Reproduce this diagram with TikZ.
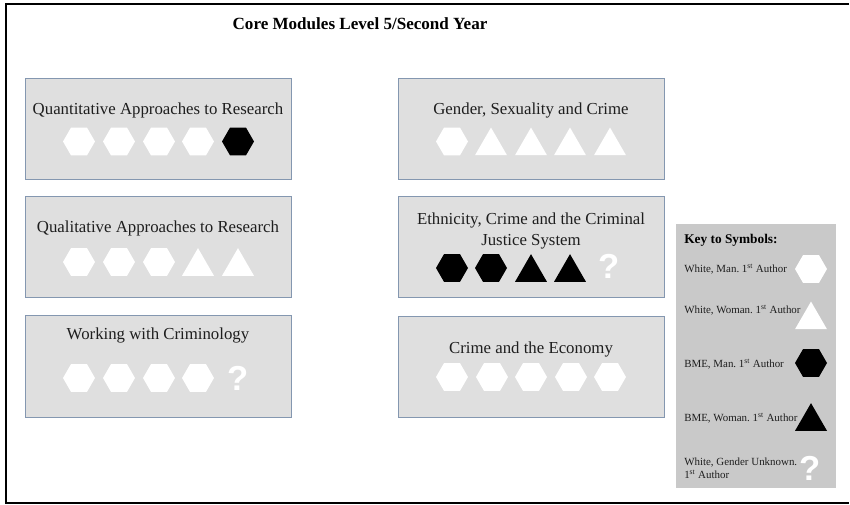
\documentclass[tikz,border=0pt]{standalone}
\usepackage{fontspec}
\setmainfont{Liberation Serif}
\newfontfamily\qmfont{Liberation Sans}
\usetikzlibrary{shapes.geometric}
\definecolor{boxfill}{RGB}{223,223,223}
\definecolor{boxline}{RGB}{132,151,176}
\definecolor{keyfill}{RGB}{201,201,201}
\definecolor{txt}{RGB}{30,30,30}

\begin{document}
\begin{tikzpicture}[x=0.75pt, y=-0.75pt,
    module/.style={draw=boxline, fill=boxfill, line width=0.6pt, minimum width=199.5pt, minimum height=76pt, inner sep=0pt},
    title/.style={anchor=base, font=\fontsize{12.6pt}{16pt}\selectfont, text=txt, align=center, inner sep=0pt},
    wm/.style={regular polygon, regular polygon sides=6, minimum size=24pt, inner sep=0pt, fill=white},
    bm/.style={wm, fill=black},
    ww/.style={regular polygon, regular polygon sides=3, minimum size=27.7pt, inner sep=0pt, fill=white},
    bw/.style={ww, fill=black},
    unk/.style={text=white, font=\qmfont\bfseries\fontsize{26pt}{26pt}\selectfont, inner sep=0pt},
    keytext/.style={anchor=west, font=\fontsize{8.2pt}{10pt}\selectfont, text=txt, align=left, inner sep=0pt}]

    \useasboundingbox (0,0) rectangle (850,505);
    \draw[line width=1.5pt] (849,4) -- (6,4) -- (6,503) -- (849,503);

    \node[anchor=base, font=\bfseries\fontsize{12.8pt}{15pt}\selectfont] (head) at (360,30) {Core Modules Level 5/Second Year};

    \node[module] (quant) at (158,129) {};
    \node[module] (qual) at (158,247) {};
    \node[module] (work) at (158,366.5) {};
    \node[module] (gender) at (531,129) {};
    \node[module] (ethn) at (531,247) {};
    \node[module] (econ) at (531,367) {};

    \node[title] (quantT) at (158,115) {Quantitative Approaches to Research};
    \node[title] (qualT) at (158,233) {Qualitative Approaches to Research};
    \node[title] (workT) at (158,340) {Working with Criminology};
    \node[title] (genderT) at (531,115) {Gender, Sexuality and Crime};
    \node[title, anchor=center] (ethnT) at (531,231) {Ethnicity, Crime and the Criminal\\Justice System};
    \node[title] (econT) at (531,354) {Crime and the Economy};

    \node[wm] (q1) at (79,141.5) {};
    \node[wm] (q2) at (119,141.5) {};
    \node[wm] (q3) at (159,141.5) {};
    \node[wm] (q4) at (198,141.5) {};
    \node[bm] (q5) at (238,141.5) {};

    \node[wm] (l1) at (79,262) {};
    \node[wm] (l2) at (119,262) {};
    \node[wm] (l3) at (159,262) {};
    \node[ww] (l4) at (198,266.6) {};
    \node[ww] (l5) at (238,266.6) {};

    \node[wm] (w1) at (79,378) {};
    \node[wm] (w2) at (119,378) {};
    \node[wm] (w3) at (159,378) {};
    \node[wm] (w4) at (198,378) {};
    \node[unk] (w5) at (238,378) {?};

    \node[wm] (g1) at (452,141.5) {};
    \node[ww] (g2) at (491,146) {};
    \node[ww] (g3) at (531,146) {};
    \node[ww] (g4) at (570,146) {};
    \node[ww] (g5) at (610,146) {};

    \node[bm] (e1) at (452,268) {};
    \node[bm] (e2) at (491,268) {};
    \node[bw] (e3) at (531,272.6) {};
    \node[bw] (e4) at (570,272.6) {};
    \node[unk] (e5) at (609,266) {?};

    \node[wm] (c1) at (452,377) {};
    \node[wm] (c2) at (492,377) {};
    \node[wm] (c3) at (531,377) {};
    \node[wm] (c4) at (571,377) {};
    \node[wm] (c5) at (610,377) {};

    \node[fill=keyfill, minimum width=120pt, minimum height=198pt, inner sep=0pt] (key) at (756,356) {};
    \node[anchor=base west, font=\bfseries\fontsize{10pt}{12pt}\selectfont, inner sep=0pt] (keyT) at (684,244) {Key to Symbols:};
    \node[keytext] (k1) at (684,269) {White,\ Man.\ 1\textsuperscript{st} Author};
    \node[keytext] (k2) at (684,310) {White,\ Woman.\ 1\textsuperscript{st} Author};
    \node[keytext] (k3) at (684,364) {BME,\ Man.\ 1\textsuperscript{st} Author};
    \node[keytext] (k4) at (684,418) {BME,\ Woman.\ 1\textsuperscript{st} Author};
    \node[keytext] (k5) at (684,468) {White,\ Gender\ Unknown.\\1\textsuperscript{st} Author};
    \node[wm] (s1) at (811,269) {};
    \node[ww] (s2) at (811,320) {};
    \node[bm] (s3) at (811,363) {};
    \node[bw] (s4) at (811,421.6) {};
    \node[unk] (s5) at (810,468) {?};
\end{tikzpicture}
\end{document}
